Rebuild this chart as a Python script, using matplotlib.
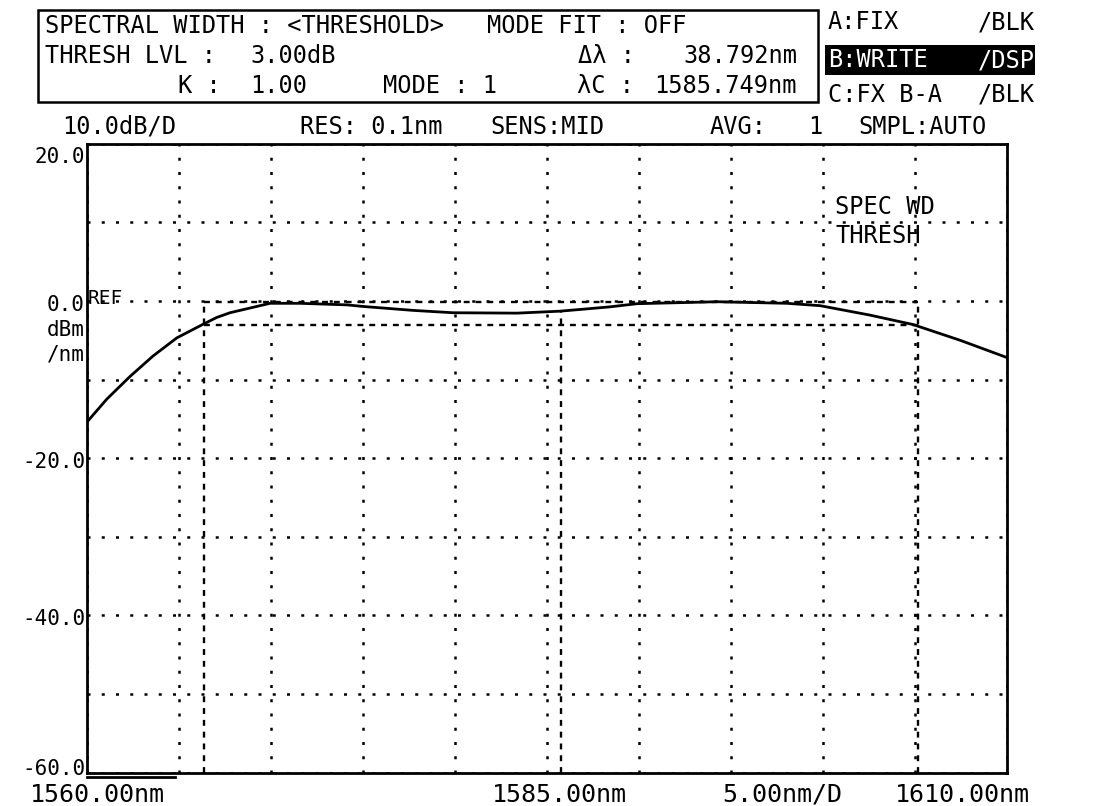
import matplotlib.pyplot as plt
from matplotlib.patches import Rectangle
import numpy as np

W, H = 1108, 806
FONT = "DejaVu Sans Mono"

# trace (wavelength nm, level dBm/nm)
wavelength = [1560.00, 1561.07, 1562.34, 1563.59, 1564.88, 1566.32, 1567.05,
              1567.77, 1569.95, 1571.58, 1574.13, 1575.00, 1577.72, 1579.89,
              1583.37, 1585.71, 1586.96, 1588.42, 1589.89, 1594.24, 1598.04,
              1599.84, 1602.55, 1604.89, 1607.45, 1610.00]
level = [-15.4, -12.5, -9.6, -7.0, -4.7, -2.95, -2.1,
         -1.5, -0.3, -0.3, -0.5, -0.7, -1.2, -1.5,
         -1.55, -1.3, -1.05, -0.75, -0.35, -0.1, -0.3,
         -0.6, -1.8, -3.0, -5.0, -7.2]

# spectral width result
thresh_db = 3.0
center_nm = 1585.749
width_nm = 38.792

x_ticks = np.arange(1560, 1611, 5)
y_ticks = np.arange(-60, 21, 10)
y_labels = {20: "20.0", 0: "0.0", -20: "-20.0", -40: "-40.0", -60: "-60.0"}


def fx(x):
    return x / W


def fy(y):
    return 1 - y / H


def ftext(x, y, s, size=17, ha="left", color="black"):
    fig.text(fx(x), fy(y), s, fontsize=size, ha=ha, va="center",
             family=FONT, color=color)


fig = plt.figure(figsize=(W / 100, H / 100), dpi=100)
ax = fig.add_axes([fx(87), fy(772.7), fx(1007) - fx(87), fy(143.7) - fy(772.7)])

ax.set_xlim(1560, 1610)
ax.set_ylim(-60, 20)
ax.set_xticks(x_ticks)
ax.set_yticks(y_ticks)
ax.set_xticklabels([])
ax.set_yticklabels([])
ax.tick_params(length=0)
ax.grid(True, color="black", linestyle=(0, (1.2, 4.5)), linewidth=1.8)
for sp in ax.spines.values():
    sp.set_linewidth(2)

# measurement markers
peak = max(level)
left_nm = center_nm - width_nm / 2
right_nm = center_nm + width_nm / 2
mark = dict(color="black", linestyle=(0, (2.5, 2.5)), linewidth=1.7)
ax.plot([left_nm, right_nm], [peak, peak], **mark)
ax.plot([left_nm, right_nm], [peak - thresh_db, peak - thresh_db], **mark)
ax.plot([left_nm, left_nm], [-60, peak], **mark)
ax.plot([right_nm, right_nm], [-60, peak], **mark)
ax.plot([center_nm, center_nm], [-60, np.interp(center_nm, wavelength, level)], **mark)

ax.plot(wavelength, level, color="black", linewidth=2)

# y labels (the screen draws them a little under the grid line)
for v, s in y_labels.items():
    y = 301.7 - 7.85 * v
    if v == 20:
        y += 12
    elif v == -60:
        y -= 4
    else:
        y += 3
    ftext(85, y, s, size=15, ha="right")
ftext(88, 298, "REF", size=14)
ftext(85, 330, "dBm", size=15, ha="right")
ftext(85, 355, "/nm", size=15, ha="right")

# x labels
ftext(30, 795, "1560.00nm", size=18)
ftext(492, 795, "1585.00nm", size=18)
ftext(722, 795, "5.00nm/D", size=18)
ftext(895, 795, "1610.00nm", size=18)
fig.add_artist(plt.Line2D([fx(87), fx(175)], [fy(777), fy(777)], color="black", linewidth=2))

ftext(835, 207, "SPEC WD", size=17)
ftext(835, 236, "THRESH", size=17)

# header box
fig.add_artist(Rectangle((fx(38), fy(102)), fx(818) - fx(38), fy(10) - fy(102),
                         fill=False, edgecolor="black", linewidth=1.8,
                         transform=fig.transFigure))
ftext(45, 26, "SPECTRAL WIDTH : <THRESHOLD>")
ftext(487, 26, "MODE FIT : OFF")
ftext(45, 56, "THRESH LVL :")
ftext(250, 56, "3.00dB")
ftext(578, 56, "Δλ :")
ftext(797, 56, "38.792nm", ha="right")
ftext(178, 86, "K :")
ftext(250, 86, "1.00")
ftext(383, 86, "MODE : 1")
ftext(577, 86, "λC :")
ftext(797, 86, "1585.749nm", ha="right")

# trace panel
fig.add_artist(Rectangle((fx(825), fy(75)), fx(1035) - fx(825), fy(45) - fy(75),
                         facecolor="black", edgecolor="none",
                         transform=fig.transFigure))
ftext(828, 22, "A:FIX")
ftext(1035, 22, "/BLK", ha="right")
ftext(828, 60, "B:WRITE", color="white")
ftext(1035, 60, "/DSP", ha="right", color="white")
ftext(828, 95, "C:FX B-A")
ftext(1035, 95, "/BLK", ha="right")

# status line
ftext(62, 127, "10.0dB/D")
ftext(300, 127, "RES: 0.1nm")
ftext(490, 127, "SENS:MID")
ftext(710, 127, "AVG:")
ftext(808, 127, "1")
ftext(858, 127, "SMPL:AUTO")

fig.savefig("out.png", dpi=100)
